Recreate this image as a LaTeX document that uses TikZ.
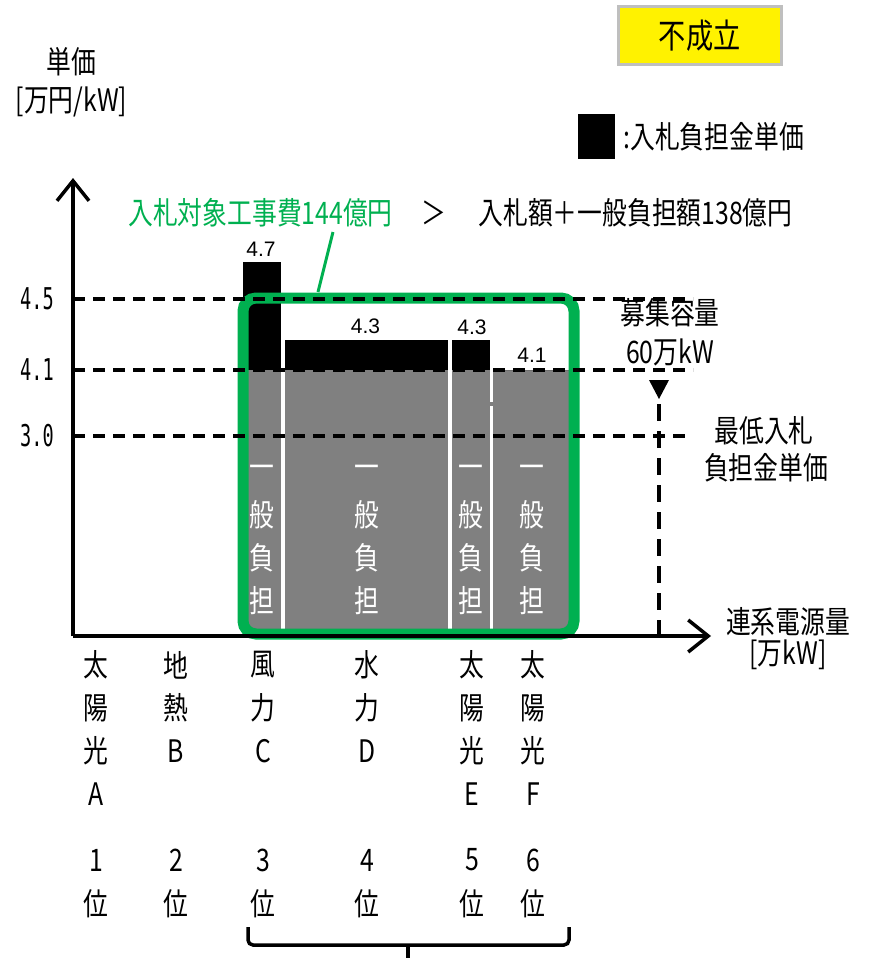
\documentclass[tikz,border=0pt]{standalone}
\usepackage{fontspec}
\setmainfont{Noto Sans CJK JP}[FakeStretch=0.8]
\newfontfamily\valfont{Liberation Sans}
\newfontfamily\tickfont{DejaVu Sans Mono}[FakeStretch=0.62]
\usetikzlibrary{positioning}
\usetikzlibrary{arrows.meta}
\definecolor{bidgreen}{RGB}{0,176,80}
\definecolor{boxgray}{RGB}{191,191,191}
\tikzstyle{jp}=[font=\fontsize{31}{36}\selectfont, inner sep=0pt]
\tikzstyle{bigjp}=[font=\fontsize{34}{40}\selectfont, inner sep=0pt]
\tikzstyle{barjp}=[jp, text=white]
\tikzstyle{valuelabel}=[font=\fontsize{21}{24}\selectfont\valfont, inner sep=0pt]
\tikzstyle{ticklabel}=[font=\fontsize{30}{34}\selectfont\tickfont, inner sep=0pt]
\tikzstyle{axisline}=[line width=3.5pt, -{Straight Barb[length=20pt,width=32pt]}]
\tikzstyle{pricelevel}=[line width=3.6pt, dash pattern=on 12pt off 8pt]
\tikzstyle{capline}=[line width=3.6pt, dash pattern=on 17pt off 10pt]
\newcommand{\drawbar}[3]{% left, right, top of the black part (gray below 4.1)
  \fill[black!50] (#1,370) rectangle (#2,634);
  \fill[black] (#1,#3) rectangle (#2,370);
}
\newcommand{\bartext}[2]{% x, node name
  \foreach \ch [count=\k] in {一,般,負,担}
    \node[barjp] (#2-\k) at (#1,429+43*\k) {\ch};
}
\newcommand{\srclabel}[4]{% x, node name, rank, characters
  \foreach \ch [count=\k] in {#4}
    \node[jp] (#2-\k) at (#1,622+43*\k) {\ch};
  \node[jp] (#2-rank) at (#1,860) {#3};
  \node[jp] (#2-pos) at (#1,904) {位};
}
\begin{document}
\begin{tikzpicture}[x=1pt,y=-1pt]
	\useasboundingbox (0,0) rectangle (869,958);
	% bars
	\drawbar{243}{281}{262}
	\drawbar{285}{448}{340}
	\drawbar{452}{490}{340}
	\drawbar{493}{574}{370}
	\fill[black!50] (490,402) rectangle (493,406);
	\bartext{262}{barC}
	\bartext{366.5}{barD}
	\bartext{471}{barE}
	\bartext{532}{barF}
	\node[valuelabel] (valC) at (261,249.5) {4.7};
	\node[valuelabel] (valD) at (365.5,326) {4.3};
	\node[valuelabel] (valE) at (472,327) {4.3};
	\node[valuelabel] (valF) at (532,355) {4.1};
	% green frame and its label
	\draw[bidgreen, line width=11pt, rounded corners=13pt] (243,298) rectangle (574,634);
	\node[jp, text=bidgreen] (cost) at (260.5,213) {入札対象工事費144億円};
	\node[jp] (gt) at (434,213) {＞};
	\node[jp] (bidsum) at (635.5,213) {入札額＋一般負担額138億円};
	\coordinate (costfoot) at (333,232);
	\coordinate (framehead) at (318,292);
	\draw[bidgreen, line width=3pt] (costfoot) -- (framehead);
	% price levels
	\foreach \val/\yy/\xend [count=\i] in {4.5/299/693, 4.1/370/693, 3.0/436/687} {
		\node[ticklabel] (tick\i) at (37,\yy) {\val};
		\draw[pricelevel] (73,\yy) -- (\xend,\yy);
	}
	% capacity mark
	\fill (649,380) -- (669,380) -- (659,399) -- cycle;
	\coordinate (captop) at (659,404);
	\coordinate (capfoot) at (659,636);
	\draw[capline] (captop) -- (capfoot);
	% axes
	\coordinate (O) at (73,636);
	\coordinate (ytip) at (73,178);
	\coordinate (xtip) at (711,636);
	\draw[axisline] (O) -- (ytip);
	\draw[axisline] (O) -- (xtip);
	\node[jp] (yname) at (71.7,61.5) {単価};
	\node[jp] (yunit) at (71.5,101.5) {[万円/kW]};
	\node[jp] (xname) at (788,622) {連系電源量};
	\node[jp] (xunit) at (788,655) {[万kW]};
	\node[jp] (quota) at (670,313) {募集容量};
	\node[jp] (quotaval) at (670,352) {60万kW};
	\node[jp] (minbid1) at (764,431) {最低入札};
	\node[jp] (minbid2) at (766,468) {負担金単価};
	% verdict and legend
	\node[bigjp, fill=yellow, draw=boxgray, line width=3pt, minimum width=163pt, minimum height=58pt] (verdict) at (699.7,35.2) {不成立};
	\node[fill=black, minimum width=37pt, minimum height=45pt, inner sep=0pt] (legendbox) at (596.5,136.5) {};
	\node[jp, right=8pt of legendbox] (legendtext) {:入札負担金単価};
	% sources and ranks
	\srclabel{96}{srcA}{1}{太,陽,光,A}
	\srclabel{176}{srcB}{2}{地,熱,B}
	\srclabel{263}{srcC}{3}{風,力,C}
	\srclabel{367}{srcD}{4}{水,力,D}
	\srclabel{472}{srcE}{5}{太,陽,光,E}
	\srclabel{533}{srcF}{6}{太,陽,光,F}
	\draw[line width=3.5pt, rounded corners=5pt] (248,927) -- (248,945) -- (569,945) -- (569,927);
	\coordinate (bracemid) at (408,945);
	\coordinate (bracefoot) at (408,958);
	\draw[line width=3.5pt] (bracemid) -- (bracefoot);
\end{tikzpicture}
\end{document}
